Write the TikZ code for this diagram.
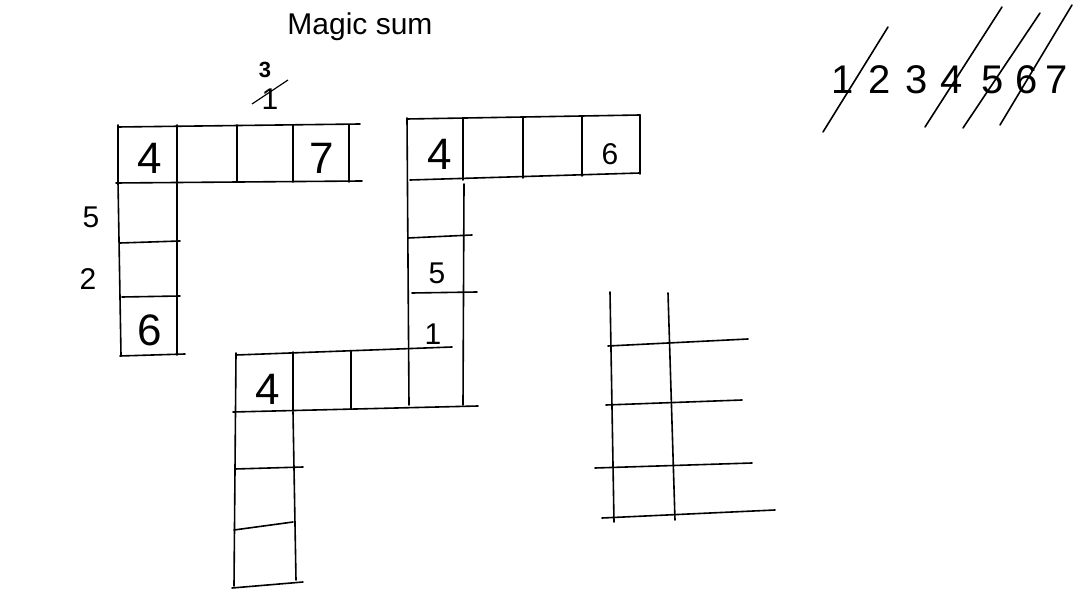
\documentclass[tikz,border=0pt]{standalone}
\usepackage{fontspec}
\setmainfont{Liberation Sans}
\begin{document}
\begin{tikzpicture}[x=1pt, y=-1pt,
    pen/.style={line width=1.6pt, line cap=round},
    big/.style={font=\fontsize{44}{44}\selectfont},
    mid/.style={font=\fontsize{30}{30}\selectfont},
    tiny/.style={font=\fontsize{24}{24}\selectfont}]
    \useasboundingbox (0,0) rectangle (1090,601);

    % Titulo
    \node[mid] (titulo) at (360,27) {Magic sum};

    % Primera L: fila
    \draw[pen] (118,127) -- (360,124);
    \draw[pen] (116,183) -- (362,181);
    \foreach \x in {118,177,237,293,349}
        \draw[pen] (\x,125) -- (\x,182);
    % Primera L: columna
    \draw[pen] (118,182) -- (121,355);
    \draw[pen] (177,182) -- (177,355);
    \draw[pen] (120,243) -- (180,241);
    \draw[pen] (122,297) -- (180,296);
    \draw[pen] (120,356) -- (185,354);

    \node[big] (p4) at (150,158) {4};
    \node[big] (p7) at (322,158) {7};
    \node[big] (p6) at (150,330) {6};
    \node[mid] (l5) at (91,217) {5};
    \node[mid] (l2) at (88,279) {2};

    % Tachado encima
    \node[inner sep=0pt, font=\bfseries\fontsize{22}{22}\selectfont] (tres) at (265,70) {3};
    \node[mid, inner sep=0pt] (uno) at (270,99) {1};
    \draw[line width=1.2pt] ([shift={(-18,5)}]uno.center) -- ([shift={(18,-19)}]uno.center);

    % Segunda L: fila
    \draw[pen] (407,119) -- (640,115);
    \draw[pen] (410,180) -- (640,173);
    \foreach \x/\ya/\yb in {463/118/180, 523/117/178, 582/116/176, 640/115/174}
        \draw[pen] (\x,\ya) -- (\x,\yb);
    % Segunda L: columna
    \draw[pen] (407,118) -- (409,405);
    \draw[pen] (464,184) -- (463,405);
    \draw[pen] (408,238) -- (472,235);
    \draw[pen] (412,293) -- (477,292);

    \node[big] (s4) at (440,154) {4};
    \node[mid] (s6) at (610,154) {6};
    \node[mid] (s5) at (437,273) {5};
    \node[mid] (s1) at (433,334) {1};

    % Tercera L: fila
    \draw[pen] (236,355) -- (452,347);
    \draw[pen] (233,412) -- (478,406);
    \draw[pen] (293,352) -- (293,411);
    \draw[pen] (351,351) -- (351,409);
    % Tercera L: columna
    \draw[pen] (236,353) -- (234,586);
    \draw[pen] (293,412) -- (296,580);
    \draw[pen] (235,469) -- (303,467);
    \draw[pen] (234,530) -- (293,522);
    \draw[pen] (232,588) -- (303,582);

    \node[big] (t4) at (268,389) {4};

    % Rejilla derecha
    \draw[pen] (610,292) -- (614,522);
    \draw[pen] (668,293) -- (675,520);
    \draw[pen] (608,346) -- (748,339);
    \draw[pen] (606,405) -- (742,400);
    \draw[pen] (595,468) -- (752,463);
    \draw[pen] (602,518) -- (775,510);

    % Numeros tachados
    \foreach \n/\x in {1/843, 2/880, 3/917, 4/952, 5/993, 6/1027, 7/1057}
        \node[mid, font=\fontsize{40}{40}\selectfont] (n\n) at (\x,80) {\n};
    \draw[pen] ([shift={(-20,52)}]n1.center) -- ([shift={(45,-53)}]n1.center);
    \draw[pen] ([shift={(-27,47)}]n4.center) -- ([shift={(50,-73)}]n4.center);
    \draw[pen] ([shift={(-30,48)}]n5.center) -- ([shift={(47,-67)}]n5.center);
    \draw[pen] ([shift={(-27,45)}]n6.center) -- ([shift={(45,-75)}]n6.center);
\end{tikzpicture}
\end{document}
